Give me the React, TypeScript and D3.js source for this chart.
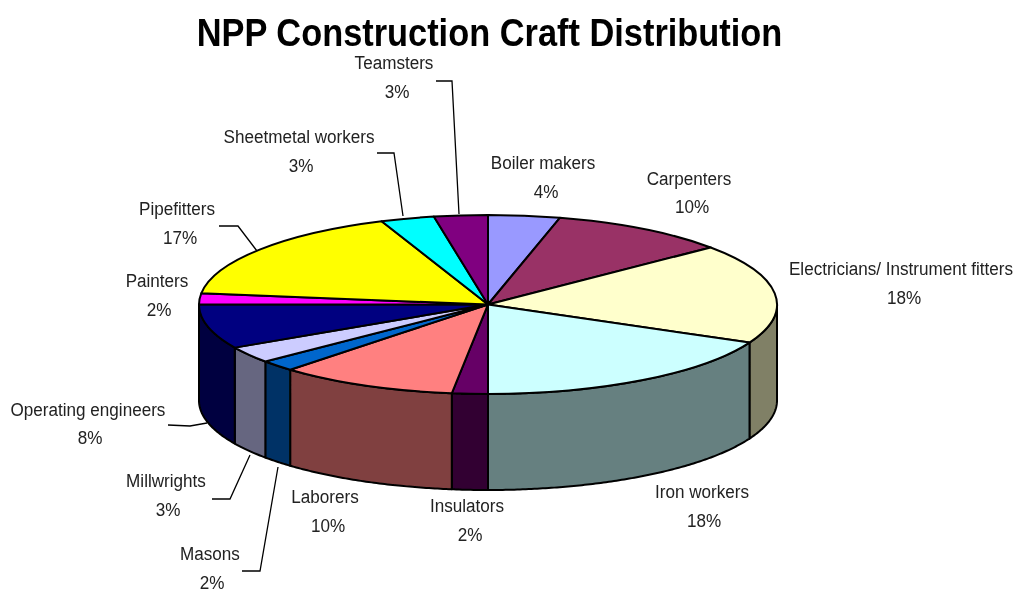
import React from "react";
import * as d3 from "d3";

const chartTitle = "NPP Construction Craft Distribution";
const categories = ["Boiler makers","Carpenters","Electricians/ Instrument fitters","Iron workers","Insulators","Laborers","Masons","Millwrights","Operating engineers","Painters","Pipefitters","Sheetmetal workers","Teamsters"];
const shares = [4,10,18,18,2,10,2,3,8,2,17,3,3];
const topColors = ["#9999FF","#993366","#FFFFCC","#CCFFFF","#660066","#FF8080","#0066CC","#CCCCFF","#000080","#FF00FF","#FFFF00","#00FFFF","#800080"];
const wallColors = ["#4D4D80","#4D1A33","#808066","#668080","#330033","#804040","#003366","#666680","#000040","#800080","#808000","#008080","#400040"];

// label anchors: [name x, name y, percent x, percent y]
const labelAnchors: number[][] = [
  [543,169,546,198],[689,185,692,213],[901,275,904,304],[702,498,704,527],
  [467,512,470,541],[325,503,328,532],[210,560,212,589],[166,487,168,516],
  [88,416,90,444],[157,287,159,316],[177,215,180,244],[299,143,301,172],[394,69,397,98],
];
const leaders: [number,number][][] = [
  [[436,81],[452,81],[459,214]],
  [[377,153],[394,153],[403,216]],
  [[219,226],[238,226],[257,251]],
  [[168,425],[190,426],[207,423]],
  [[212,499],[230,499],[250,455]],
  [[242,571],[260,571],[278,467]],
];

const W = 1021, H = 590;
const cx = 488, cy = 304.5, rx = 289, ry = 89.5, depth = 96;
const labelSqueeze = 0.9, titleSqueeze = 0.905;

export default function App() {
  const pie = d3.pie<number>().sort(null).startAngle(0).endAngle(2 * Math.PI);
  const arcs = pie(shares);
  const arc = d3.arc<d3.PieArcDatum<number>>().innerRadius(0).outerRadius(rx);
  const xAt = (t: number) => cx + rx * Math.sin(t);
  const yAt = (t: number) => cy - ry * Math.cos(t);
  const wall = d3.area<number>().x(xAt).y0(yAt).y1((t) => yAt(t) + depth);
  const lead = d3.line<[number,number]>();
  const font = "'Liberation Sans',Arial,sans-serif";

  return (
    <svg width={W} height={H} viewBox={`0 0 ${W} ${H}`} style={{ position: "absolute", left: 0, top: 0, background: "#fff" }}>
      <defs>
        <filter id="soft" x="-5%" y="-5%" width="110%" height="110%">
          <feGaussianBlur stdDeviation="0.5" />
        </filter>
      </defs>
      <g filter="url(#soft)">
        <text transform={`translate(489.5,46) scale(${titleSqueeze},1)`} textAnchor="middle" fontFamily={font} fontWeight="bold" fontSize={38} fill="#000">{chartTitle}</text>
        {arcs.map((a, i) => {
          const s = Math.max(a.startAngle, Math.PI / 2);
          const e = Math.min(a.endAngle, 1.5 * Math.PI);
          if (e <= s) return null;
          const ts = [...d3.range(s, e, 0.01), e];
          return <path key={i} d={wall(ts) || ""} fill={wallColors[i]} stroke="#000" strokeWidth={2} strokeLinejoin="round" />;
        })}
        <g transform={`translate(${cx},${cy}) scale(1,${ry / rx})`}>
          {arcs.map((a, i) => (
            <path key={i} d={arc(a) || ""} fill={topColors[i]} stroke="#000" strokeWidth={2} strokeLinejoin="round" vectorEffect="non-scaling-stroke" />
          ))}
        </g>
        {leaders.map((l, i) => (
          <path key={i} d={lead(l) || ""} fill="none" stroke="#000" strokeWidth={1.3} />
        ))}
        {categories.map((c, i) => {
          const [nx, ny, px, py] = labelAnchors[i];
          return (
            <g key={c} fontFamily={font} fontSize={19} fill="#222" textAnchor="middle">
              <text transform={`translate(${nx},${ny}) scale(${labelSqueeze},1)`}>{c}</text>
              <text transform={`translate(${px},${py}) scale(${labelSqueeze},1)`}>{`${shares[i]}%`}</text>
            </g>
          );
        })}
      </g>
    </svg>
  );
}
